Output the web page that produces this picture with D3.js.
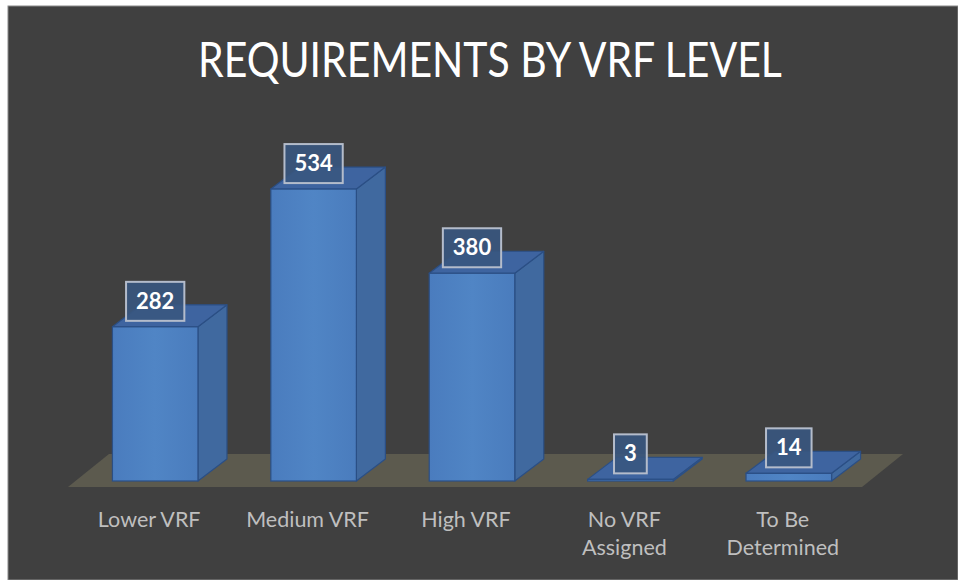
<!DOCTYPE html>
<html>
<head>
<meta charset="utf-8">
<script src="https://cdn.jsdelivr.net/npm/d3@7"></script>
<style>
  html, body { margin: 0; padding: 0; background: #ffffff; }
  svg { display: block; }
</style>
</head>
<body>
<div id="chart"></div>
<script>
// chart data
const categories = ["Lower VRF", "Medium VRF", "High VRF", "No VRF\nAssigned", "To Be\nDetermined"];
const values = [282, 534, 380, 3, 14];
const valueDomain = [0, 600];

const W = 958, H = 580;
const baseY = 481;          // front bottom edge of the bars
const depth = {dx: 29, dy: -22};   // 3d offset of the bars
const floorDepth = {dx: 41, dy: -33};

const svg = d3.select("#chart").append("svg")
    .attr("width", W)
    .attr("height", H);

// white frame + dark chart area
svg.append("rect").attr("width", W).attr("height", H).attr("fill", "#ffffff");
svg.append("rect")
    .attr("x", 8).attr("y", 6)
    .attr("width", W - 8).attr("height", H - 6)
    .attr("fill", "#404040")
    .attr("stroke", "#8a8a8a").attr("stroke-width", 1);

// title, squeezed to the width of the original
const title = svg.append("text")
    .attr("x", 0).attr("y", 77)
    .attr("font-family", "Lato, 'Open Sans', sans-serif")
    .attr("font-weight", 400)
    .attr("font-size", 49)
    .attr("fill", "#ffffff")
    .text("REQUIREMENTS BY VRF LEVEL");
const tw = title.node().getComputedTextLength();
const targetW = 584;
title.attr("transform", "translate(198,0) scale(" + (targetW / tw) + ",1)");

// scales
const x = d3.scaleBand()
    .domain(categories)
    .range([76, 868])
    .paddingInner(0.46)
    .paddingOuter(0.23);
const y = d3.scaleLinear()
    .domain(valueDomain)
    .range([baseY, baseY - 328]);

// floor
const fl = x.range()[0] - 8, fr = x.range()[1] - 6, fy = baseY + 6;
svg.append("polygon")
    .attr("points", [
        [fl, fy], [fr, fy],
        [fr + floorDepth.dx, fy + floorDepth.dy],
        [fl + floorDepth.dx, fy + floorDepth.dy]
    ].map(p => p.join(",")).join(" "))
    .attr("fill", "#5c5a4e");

// gradients for the bar faces
const defs = svg.append("defs");
const gFront = defs.append("linearGradient").attr("id", "gFront")
    .attr("x1", "0").attr("x2", "1").attr("y1", "0").attr("y2", "0");
gFront.append("stop").attr("offset", "0").attr("stop-color", "#4a7cbe");
gFront.append("stop").attr("offset", "0.5").attr("stop-color", "#5085c5");
gFront.append("stop").attr("offset", "1").attr("stop-color", "#4a7cbd");

const bars = svg.selectAll("g.bar")
    .data(categories.map((c, i) => ({name: c, value: values[i]})))
    .enter()
    .append("g")
    .classed("bar", true);

const edge = "#2b4f85";

// side face
bars.append("polygon")
    .attr("points", d => {
        let x0 = x(d.name) + x.bandwidth(), yt = y(d.value);
        return [[x0, yt], [x0 + depth.dx, yt + depth.dy],
                [x0 + depth.dx, baseY + depth.dy], [x0, baseY]]
            .map(p => p.join(",")).join(" ");
    })
    .attr("fill", "#40699f")
    .attr("stroke", edge).attr("stroke-width", 1.2).attr("stroke-linejoin", "round");

// top face
bars.append("polygon")
    .attr("points", d => {
        let x0 = x(d.name), x1 = x0 + x.bandwidth(), yt = y(d.value);
        return [[x0, yt], [x0 + depth.dx, yt + depth.dy],
                [x1 + depth.dx, yt + depth.dy], [x1, yt]]
            .map(p => p.join(",")).join(" ");
    })
    .attr("fill", "#3e64a0")
    .attr("stroke", edge).attr("stroke-width", 1.2).attr("stroke-linejoin", "round");

// front face
bars.append("rect")
    .attr("x", d => x(d.name))
    .attr("y", d => y(d.value))
    .attr("width", x.bandwidth())
    .attr("height", d => baseY - y(d.value))
    .attr("fill", "url(#gFront)")
    .attr("stroke", edge).attr("stroke-width", 1.2);

// value labels in boxes
bars.each(function(d) {
    let g = d3.select(this);
    let cx = x(d.name) + x.bandwidth() / 2;
    let bottom = y(d.value) - 6;
    let t = g.append("text")
        .attr("x", cx)
        .attr("y", bottom - 12)
        .attr("text-anchor", "middle")
        .attr("font-family", "Lato, 'Open Sans', sans-serif")
        .attr("font-weight", 700)
        .attr("font-size", 22)
        .attr("fill", "#ffffff")
        .text(d.value);
    let w = t.node().getComputedTextLength() + 20;
    g.insert("rect", "text")
        .attr("x", cx - w / 2)
        .attr("y", bottom - 39)
        .attr("width", w)
        .attr("height", 39)
        .attr("fill", "#39567f")
        .attr("fill-opacity", 0.9)
        .attr("stroke", "#b4bccb")
        .attr("stroke-width", 2);
});

// category labels
const labels = svg.selectAll("text.cat")
    .data(categories)
    .enter()
    .append("text")
    .classed("cat", true)
    .attr("text-anchor", "middle")
    .attr("font-family", "Lato, 'Open Sans', sans-serif")
    .attr("font-size", 21.5)
    .attr("fill", "#bfbfbf");
labels.each(function(c) {
    let cx = x(c) + x.bandwidth() / 2 - 6;
    c.split("\n").forEach((line, i) => {
        d3.select(this).append("tspan")
            .attr("x", cx)
            .attr("y", 527 + i * 28)
            .text(line);
    });
});
</script>
</body>
</html>
